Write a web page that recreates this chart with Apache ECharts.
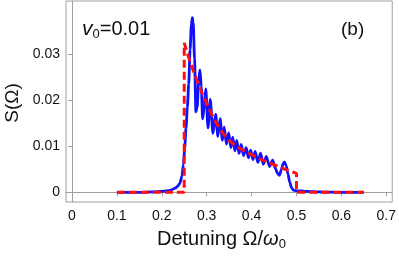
<!DOCTYPE html>
<html>
<head>
<meta charset="utf-8">
<script src="https://cdn.jsdelivr.net/npm/echarts@6/dist/echarts.min.js"></script>
<style>html,body{margin:0;padding:0;background:#fff}#c{width:399px;height:256px}</style>
</head>
<body>
<div id="c"></div>
<script>
var xTicks = [0, 0.1, 0.2, 0.3, 0.4, 0.5, 0.6, 0.7];
var yTicks = [0, 0.01, 0.02, 0.03];

var blueX = [0.10,0.15,0.18,0.20,0.21,0.22,0.23,0.235,0.24,0.245,0.248,0.251,0.254,0.257,0.260,0.263,0.266,0.268,0.270,0.273,0.276,0.279,0.282,0.285,0.288,0.291,0.295,0.298,0.303,0.308,0.314,0.320,0.325,0.330,0.335,0.339,0.344,0.349,0.354,0.358,0.363,0.367,0.372,0.377,0.382,0.388,0.393,0.398,0.403,0.408,0.414,0.420,0.426,0.433,0.440,0.447,0.453,0.458,0.462,0.466,0.470,0.473,0.477,0.481,0.485,0.489,0.493,0.500,0.510,0.520,0.550,0.600,0.650];
var blueY = [0,0,0.0001,0.0002,0.0003,0.0005,0.0009,0.0013,0.0019,0.0035,0.0060,0.0095,0.0140,0.0185,0.0235,0.0310,0.0365,0.0380,0.0370,0.0290,0.0175,0.0185,0.0240,0.0266,0.0230,0.0160,0.0190,0.0225,0.0140,0.0202,0.0128,0.0170,0.0122,0.0160,0.0113,0.0142,0.0105,0.0129,0.0097,0.0120,0.0090,0.0113,0.0085,0.0104,0.0080,0.0097,0.0075,0.0092,0.0071,0.0089,0.0065,0.0085,0.0061,0.0078,0.0056,0.0070,0.0052,0.0041,0.0037,0.0048,0.0062,0.0066,0.0058,0.0040,0.0022,0.0010,0.0005,0.0003,0.0003,0.0002,0.0001,0,0];

var redX = [0.10,0.25,0.25,0.26,0.27,0.28,0.29,0.30,0.31,0.32,0.33,0.34,0.35,0.36,0.37,0.38,0.39,0.40,0.41,0.42,0.43,0.44,0.45,0.46,0.47,0.48,0.49,0.50,0.50,0.65];
var redY = [0,0,0.0325,0.0293,0.0265,0.0239,0.0215,0.0193,0.0172,0.0153,0.0137,0.0124,0.0113,0.0105,0.0098,0.0092,0.0087,0.0082,0.0077,0.0072,0.0068,0.0064,0.0060,0.0056,0.0052,0.0048,0.0045,0.0041,0,0];

function pairs(xs, ys){ return xs.map(function(x,i){ return [x, ys[i]]; }); }

var FONT = '"Liberation Sans", Arial, sans-serif';
var chart = echarts.init(document.getElementById('c'));
chart.setOption({
  animation: false,
  grid: {left: 66, top: 1, right: 6, bottom: 54, show: true, borderColor: '#a0a0a0', borderWidth: 1},
  xAxis: {
    type: 'value', min: -0.0133, max: 0.7133,
    splitLine: {show: false},
    axisLine: {show: true, lineStyle: {color: '#a0a0a0', width: 1}},
    axisTick: {show: true, length: 4, customValues: xTicks, lineStyle: {color: '#a0a0a0'}},
    axisLabel: {customValues: xTicks, margin: 7, color: '#111', fontSize: 14, fontFamily: FONT,
      formatter: function(v){ return v === 0 ? '0' : v.toFixed(1); }}
  },
  yAxis: {
    type: 'value', min: -0.0021, max: 0.0416,
    splitLine: {show: false},
    axisLine: {show: true, lineStyle: {color: '#a0a0a0', width: 1}},
    axisTick: {show: true, length: 4, customValues: yTicks, lineStyle: {color: '#a0a0a0'}},
    axisLabel: {customValues: yTicks, margin: 6, color: '#111', fontSize: 14, fontFamily: FONT,
      formatter: function(v){ return v === 0 ? '0' : v.toFixed(2); }}
  },
  series: [
    {type: 'line', data: pairs(blueX, blueY), showSymbol: false, smooth: 0.25, smoothMonotone: 'x',
     lineStyle: {color: '#1010ff', width: 2.8}},
    {type: 'line', data: pairs(redX, redY), showSymbol: false,
     lineStyle: {color: '#ff1010', width: 3, type: [8, 4]}}
  ],
  graphic: [
    {type: 'text', left: 82, top: 19, style: {text: '{v|v}{s|0}{t|=0.01}', font: '20px ' + FONT,
      rich: {v: {fontSize: 21, fontStyle: 'italic', fontFamily: FONT, fill: '#111'},
             s: {fontSize: 13, fontFamily: FONT, fill: '#111', verticalAlign: 'bottom', padding: [10,0,0,0]},
             t: {fontSize: 20, fontFamily: FONT, fill: '#111'}}}},
    {type: 'text', left: 341, top: 20, style: {text: '(b)', fontSize: 19, fontFamily: FONT, fill: '#111'}},
    {type: 'text', left: 157, top: 229, style: {text: '{a|Detuning Ω/}{w|ω}{s|0}',
      rich: {a: {fontSize: 20, fontFamily: FONT, fill: '#111'},
             w: {fontSize: 20, fontStyle: 'italic', fontFamily: FONT, fill: '#111'},
             s: {fontSize: 13, fontFamily: FONT, fill: '#111', verticalAlign: 'bottom', padding: [10,0,0,0]}}}},
    {type: 'text', x: 13, y: 103, rotation: Math.PI/2, style: {text: 'S(Ω)', fontSize: 19, fontFamily: FONT, fill: '#111', align: 'center', verticalAlign: 'middle'}}
  ]
});
</script>
</body>
</html>
